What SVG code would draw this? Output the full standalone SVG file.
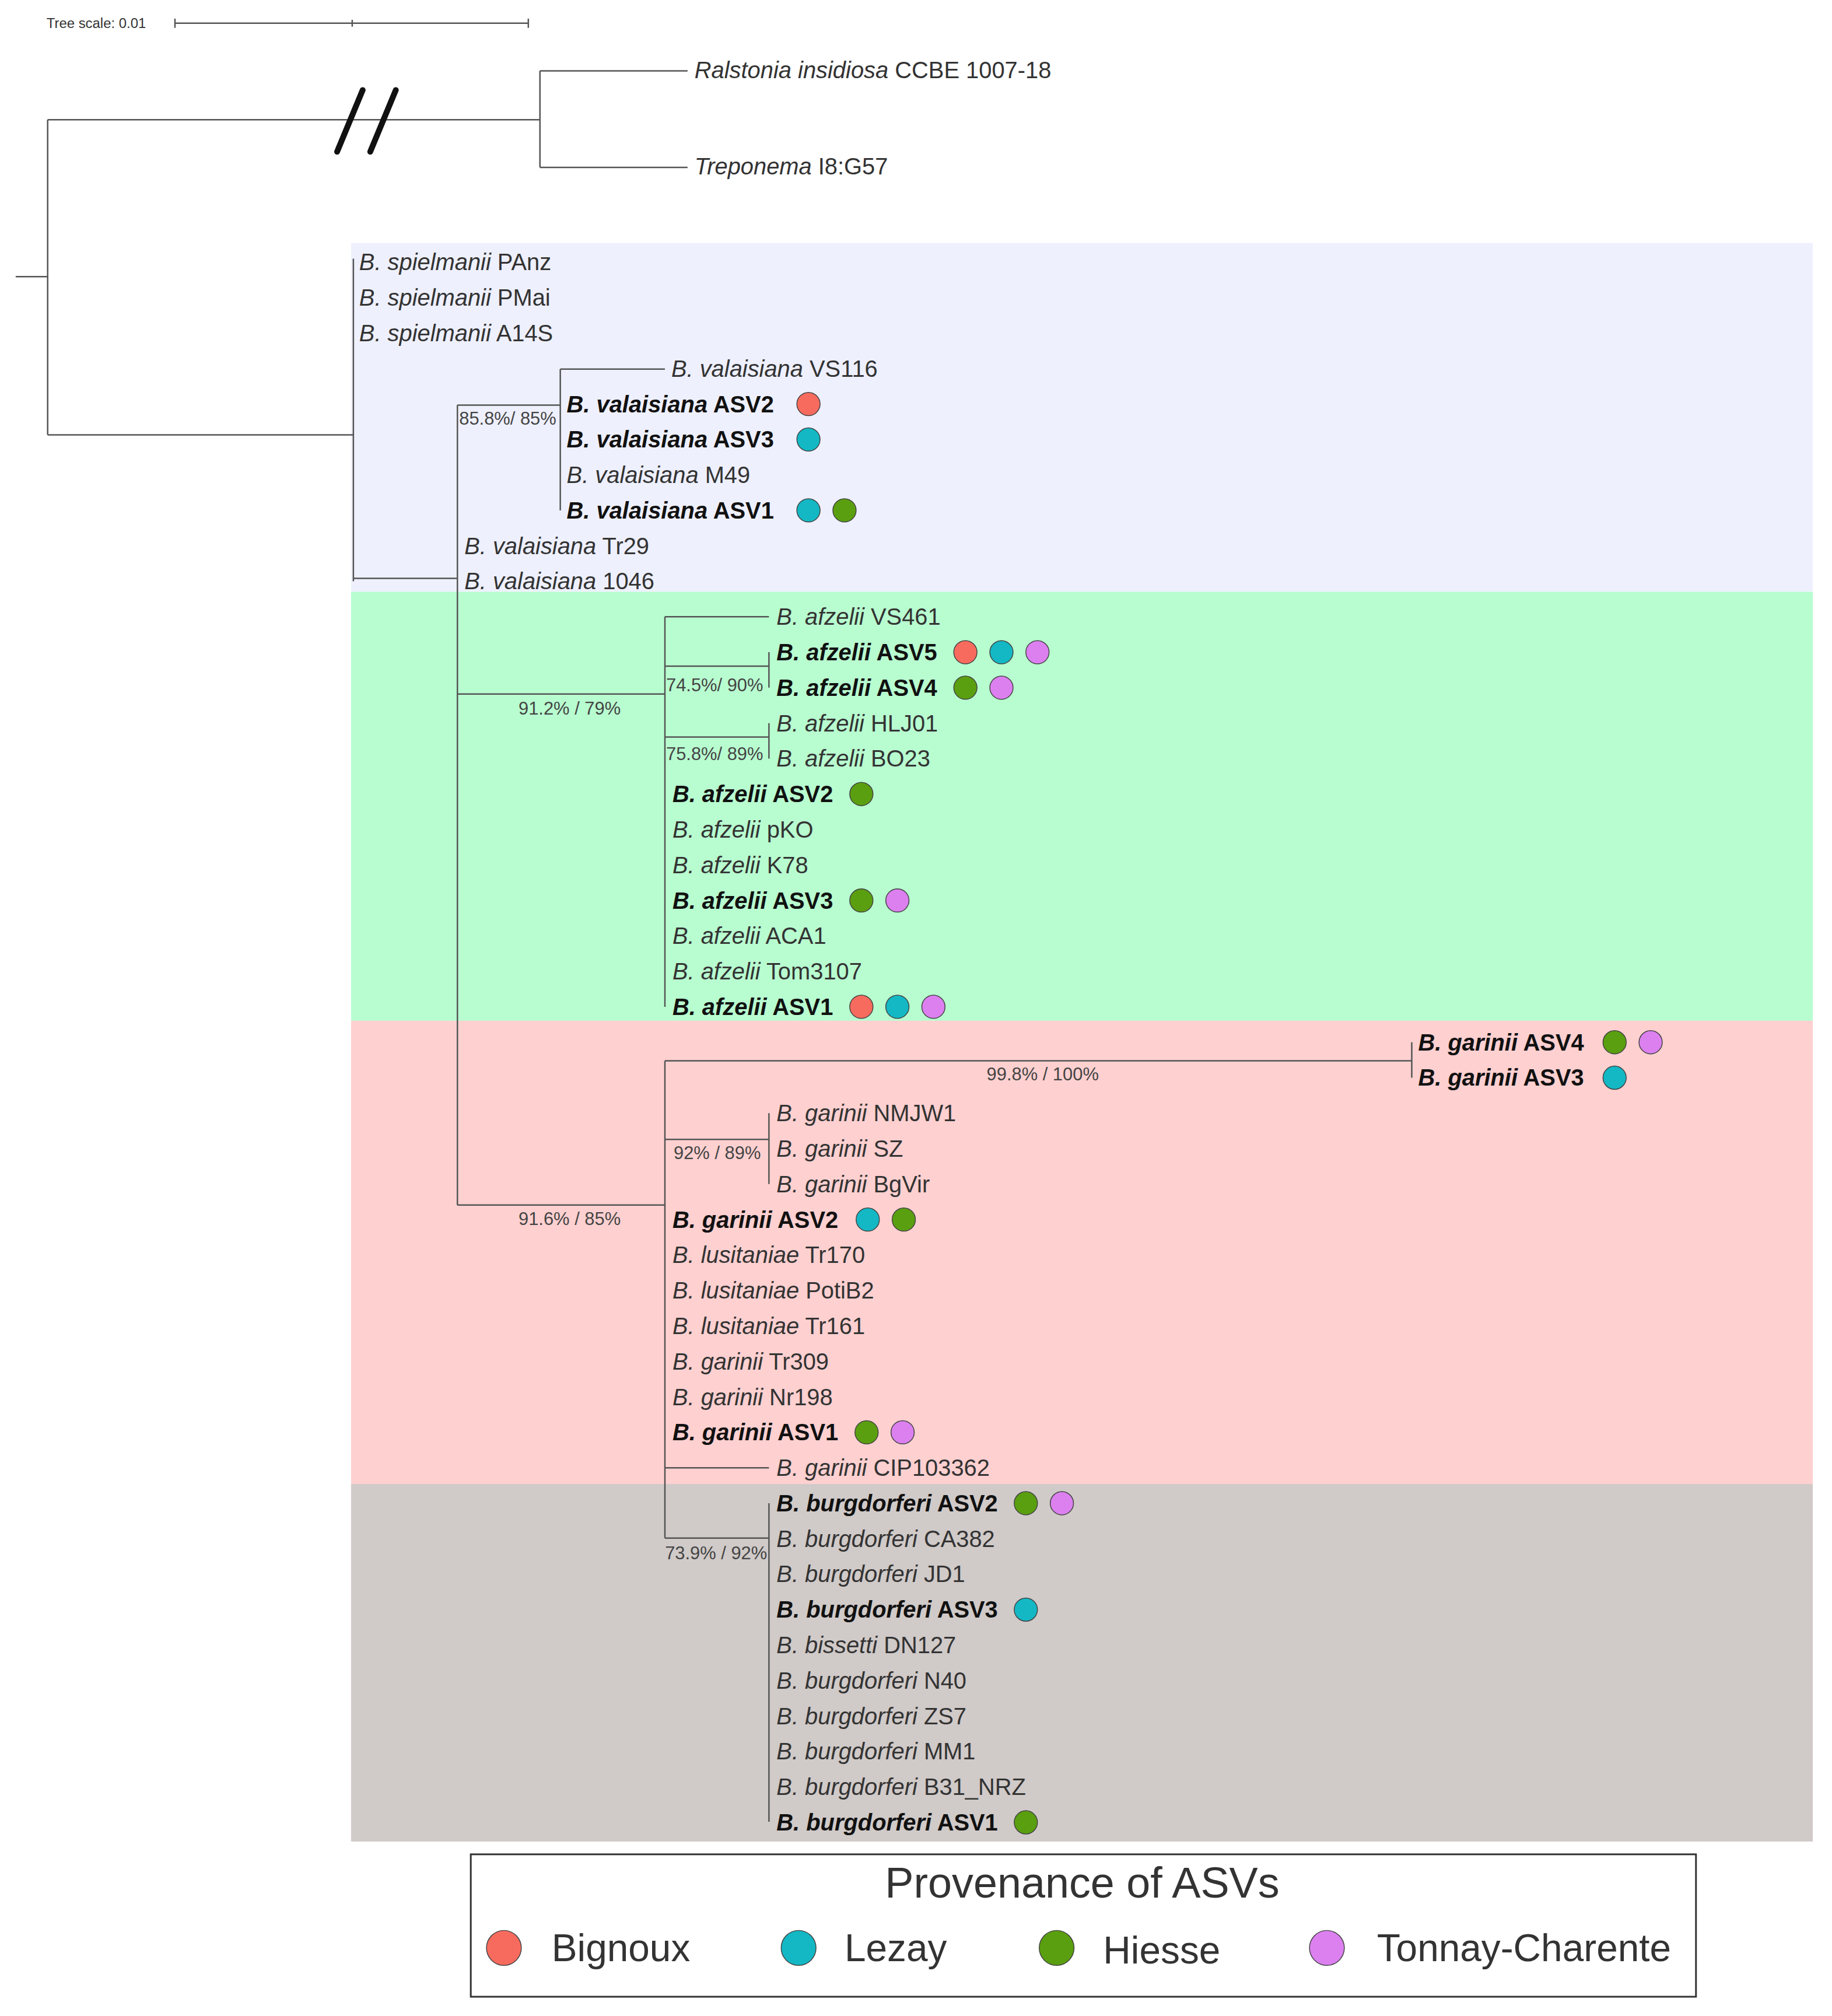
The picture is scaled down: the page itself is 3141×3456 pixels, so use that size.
<svg xmlns="http://www.w3.org/2000/svg" width="3141" height="3456" viewBox="0 0 3141 3456">
<style>
text{font-family:"Liberation Sans",Arial,sans-serif;fill:#333}
.t{font-size:40px}
.b{font-weight:bold;fill:#111}
.s{font-size:31px;fill:#444}
.e{stroke:#555;stroke-width:2.5;fill:none}
.r{fill:#f76b5e}.c{fill:#13b8c4}.g{fill:#5a9f0f}.p{fill:#dc80f0}
circle{stroke:#444;stroke-width:1.5}
</style>
<rect width="3141" height="3456" fill="#fff"/>
<g transform="scale(0.9965)">
<g id="backgrounds">
<rect x="604" y="418" width="2515" height="600" fill="#eef0fd"/>
<rect x="604" y="1018" width="2515" height="738" fill="#b8fdd0"/>
<rect x="604" y="1756" width="2515" height="797" fill="#fed0d0"/>
<rect x="604" y="2553" width="2515" height="615" fill="#d0cac8"/>
</g>
<g id="scale">
<text x="80" y="48" font-size="24">Tree scale: 0.01</text>
<path class="e" d="M301 40H909M301 32V48M606 34V46M909 32V48"/>
</g>
<g id="connectors" class="e">
<path d="M27 476H82M82 206V748M82 206H929M929 122V288M929 122H1183M929 288H1183M82 748H608"/>
<path d="M608 445V1000M608 995H787M787 697V2073"/>
<path d="M787 697H964M964 635V878M964 635H1144"/>
<path d="M787 1194H1144M1144 1061V1732M1144 1061H1323M1144 1146H1323M1323 1122V1183M1144 1268H1323M1323 1244V1305"/>
<path d="M787 2073H1144M1144 1825V2646M1144 1825H2429M2429 1793V1854M1144 1960H1323M1323 1915V2037M1144 2525H1323M1144 2646H1323M1323 2586V3134"/>
<path d="M580 261L624 155M637 261L681 155" stroke="#111" stroke-width="10" stroke-linecap="round"/>
</g>
<g id="support" class="s">
<text x="790" y="731" class="s">85.8%/ 85%</text>
<text x="980" y="1229" text-anchor="middle" class="s">91.2% / 79%</text>
<text x="1146" y="1189" class="s">74.5%/ 90%</text>
<text x="1146" y="1308" class="s">75.8%/ 89%</text>
<text x="1794" y="1859" text-anchor="middle" class="s">99.8% / 100%</text>
<text x="1234" y="1994" text-anchor="middle" class="s">92% / 89%</text>
<text x="980" y="2107" text-anchor="middle" class="s">91.6% / 85%</text>
<text x="1232" y="2682" text-anchor="middle" class="s">73.9% / 92%</text>
</g>
<g id="labels" class="t">
<text x="1195" y="134"><tspan font-style="italic">Ralstonia insidiosa</tspan> CCBE 1007-18</text>
<text x="1195" y="300"><tspan font-style="italic">Treponema</tspan> I8:G57</text>
<text x="618" y="465"><tspan font-style="italic">B. spielmanii</tspan> PAnz</text>
<text x="618" y="526"><tspan font-style="italic">B. spielmanii</tspan> PMai</text>
<text x="618" y="587"><tspan font-style="italic">B. spielmanii</tspan> A14S</text>
<text x="1155" y="648"><tspan font-style="italic">B. valaisiana</tspan> VS116</text>
<text x="975" y="709" class="b"><tspan font-style="italic">B. valaisiana</tspan> ASV2</text>
<text x="975" y="770" class="b"><tspan font-style="italic">B. valaisiana</tspan> ASV3</text>
<text x="975" y="831"><tspan font-style="italic">B. valaisiana</tspan> M49</text>
<text x="975" y="892" class="b"><tspan font-style="italic">B. valaisiana</tspan> ASV1</text>
<text x="799" y="953"><tspan font-style="italic">B. valaisiana</tspan> Tr29</text>
<text x="799" y="1014"><tspan font-style="italic">B. valaisiana</tspan> 1046</text>
<text x="1336" y="1075"><tspan font-style="italic">B. afzelii</tspan> VS461</text>
<text x="1336" y="1136" class="b"><tspan font-style="italic">B. afzelii</tspan> ASV5</text>
<text x="1336" y="1197" class="b"><tspan font-style="italic">B. afzelii</tspan> ASV4</text>
<text x="1336" y="1258"><tspan font-style="italic">B. afzelii</tspan> HLJ01</text>
<text x="1336" y="1319"><tspan font-style="italic">B. afzelii</tspan> BO23</text>
<text x="1157" y="1380" class="b"><tspan font-style="italic">B. afzelii</tspan> ASV2</text>
<text x="1157" y="1441"><tspan font-style="italic">B. afzelii</tspan> pKO</text>
<text x="1157" y="1502"><tspan font-style="italic">B. afzelii</tspan> K78</text>
<text x="1157" y="1563" class="b"><tspan font-style="italic">B. afzelii</tspan> ASV3</text>
<text x="1157" y="1624"><tspan font-style="italic">B. afzelii</tspan> ACA1</text>
<text x="1157" y="1685"><tspan font-style="italic">B. afzelii</tspan> Tom3107</text>
<text x="1157" y="1746" class="b"><tspan font-style="italic">B. afzelii</tspan> ASV1</text>
<text x="2440" y="1807" class="b"><tspan font-style="italic">B. garinii</tspan> ASV4</text>
<text x="2440" y="1868" class="b"><tspan font-style="italic">B. garinii</tspan> ASV3</text>
<text x="1336" y="1929"><tspan font-style="italic">B. garinii</tspan> NMJW1</text>
<text x="1336" y="1990"><tspan font-style="italic">B. garinii</tspan> SZ</text>
<text x="1336" y="2051"><tspan font-style="italic">B. garinii</tspan> BgVir</text>
<text x="1157" y="2112" class="b"><tspan font-style="italic">B. garinii</tspan> ASV2</text>
<text x="1157" y="2173"><tspan font-style="italic">B. lusitaniae</tspan> Tr170</text>
<text x="1157" y="2234"><tspan font-style="italic">B. lusitaniae</tspan> PotiB2</text>
<text x="1157" y="2295"><tspan font-style="italic">B. lusitaniae</tspan> Tr161</text>
<text x="1157" y="2356"><tspan font-style="italic">B. garinii</tspan> Tr309</text>
<text x="1157" y="2417"><tspan font-style="italic">B. garinii</tspan> Nr198</text>
<text x="1157" y="2478" class="b"><tspan font-style="italic">B. garinii</tspan> ASV1</text>
<text x="1336" y="2539"><tspan font-style="italic">B. garinii</tspan> CIP103362</text>
<text x="1336" y="2600" class="b"><tspan font-style="italic">B. burgdorferi</tspan> ASV2</text>
<text x="1336" y="2661"><tspan font-style="italic">B. burgdorferi</tspan> CA382</text>
<text x="1336" y="2722"><tspan font-style="italic">B. burgdorferi</tspan> JD1</text>
<text x="1336" y="2783" class="b"><tspan font-style="italic">B. burgdorferi</tspan> ASV3</text>
<text x="1336" y="2844"><tspan font-style="italic">B. bissetti</tspan> DN127</text>
<text x="1336" y="2905"><tspan font-style="italic">B. burgdorferi</tspan> N40</text>
<text x="1336" y="2966"><tspan font-style="italic">B. burgdorferi</tspan> ZS7</text>
<text x="1336" y="3027"><tspan font-style="italic">B. burgdorferi</tspan> MM1</text>
<text x="1336" y="3088"><tspan font-style="italic">B. burgdorferi</tspan> B31_NRZ</text>
<text x="1336" y="3149" class="b"><tspan font-style="italic">B. burgdorferi</tspan> ASV1</text>
</g>
<g id="dots">
<circle class="r" cx="1391" cy="695" r="20"/>
<circle class="c" cx="1391" cy="756" r="20"/>
<circle class="c" cx="1391" cy="878" r="20"/><circle class="g" cx="1453" cy="878" r="20"/>
<circle class="r" cx="1661" cy="1122" r="20"/><circle class="c" cx="1723" cy="1122" r="20"/><circle class="p" cx="1785" cy="1122" r="20"/>
<circle class="g" cx="1661" cy="1183" r="20"/><circle class="p" cx="1723" cy="1183" r="20"/>
<circle class="g" cx="1482" cy="1366" r="20"/>
<circle class="g" cx="1482" cy="1549" r="20"/><circle class="p" cx="1544" cy="1549" r="20"/>
<circle class="r" cx="1482" cy="1732" r="20"/><circle class="c" cx="1544" cy="1732" r="20"/><circle class="p" cx="1606" cy="1732" r="20"/>
<circle class="g" cx="2778" cy="1793" r="20"/><circle class="p" cx="2840" cy="1793" r="20"/>
<circle class="c" cx="2778" cy="1854" r="20"/>
<circle class="c" cx="1493" cy="2098" r="20"/><circle class="g" cx="1555" cy="2098" r="20"/>
<circle class="g" cx="1491" cy="2464" r="20"/><circle class="p" cx="1553" cy="2464" r="20"/>
<circle class="g" cx="1765" cy="2586" r="20"/><circle class="p" cx="1827" cy="2586" r="20"/>
<circle class="c" cx="1765" cy="2769" r="20"/>
<circle class="g" cx="1765" cy="3135" r="20"/>
</g>
<g id="legend">
<rect x="810" y="3190" width="2108" height="245" fill="#fff" stroke="#333" stroke-width="3"/>
<text x="1862" y="3264" text-anchor="middle" font-size="74" fill="#111">Provenance of ASVs</text>
<circle class="r" cx="867" cy="3351" r="30"/><text x="949" y="3374" font-size="66" fill="#111">Bignoux</text>
<circle class="c" cx="1374" cy="3351" r="30"/><text x="1453" y="3374" font-size="66" fill="#111">Lezay</text>
<circle class="g" cx="1818" cy="3351" r="30"/><text x="1898" y="3378" font-size="66" fill="#111">Hiesse</text>
<circle class="p" cx="2283" cy="3351" r="30"/><text x="2369" y="3374" font-size="66" fill="#111">Tonnay-Charente</text>
</g>
</g>
</svg>
